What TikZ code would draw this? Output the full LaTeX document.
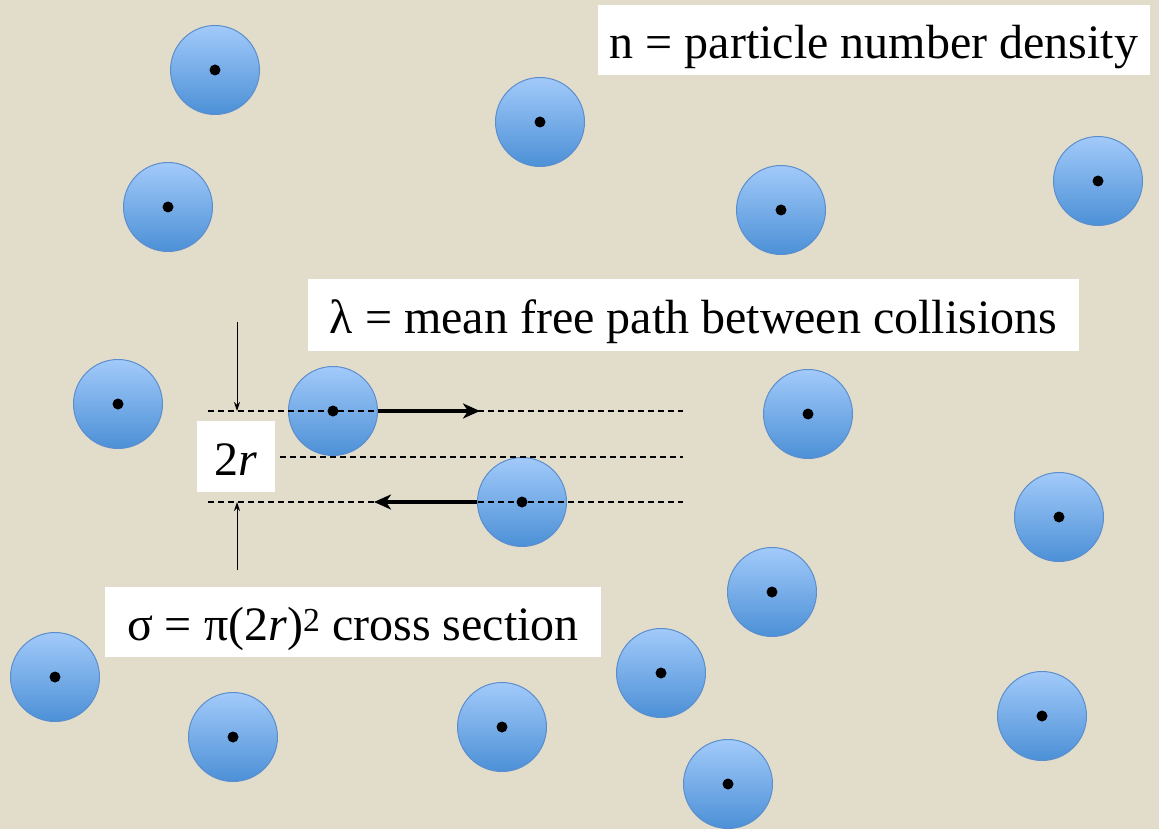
\documentclass[tikz,border=0pt]{standalone}
\usepackage{fontspec}
\setmainfont{Liberation Serif}
\usepackage{xcolor}
\usetikzlibrary{arrows.meta,positioning}
\definecolor{sand}{RGB}{226,221,203}
\definecolor{balltop}{RGB}{162,202,250}
\definecolor{ballbot}{RGB}{76,144,214}
\definecolor{ballrim}{RGB}{92,142,206}
\tikzstyle{particle} = [circle, draw=ballrim, line width=1pt, top color=balltop,
    bottom color=ballbot, minimum size=89pt, inner sep=0pt]
\tikzstyle{guide} = [dash pattern=on 6pt off 4pt, line width=1.3pt]
\tikzstyle{motion} = [line width=4pt, -{Stealth[length=17pt,width=15pt,inset=5pt]}]
\tikzstyle{gap} = [line width=1pt, -{Stealth[length=9pt,width=6pt]}]
\tikzstyle{textbox} = [fill=white, inner sep=0pt, text height=47pt, text depth=10pt,
    font=\fontsize{48}{56}\selectfont]

\begin{document}
\begin{tikzpicture}[x=1pt,y=-1pt]
    \fill[sand] (0,0) rectangle (1159,829);
    \useasboundingbox (0,0) rectangle (1159,829);
    % particles
    \foreach \name/\x/\y in {p1/215/70,p2/540/122,p3/168/207,p4/781/210,
    p5/1098/181,p6/118/404,p7/333/411,p8/808/414,p9/522/502,p10/1059/517,
    p11/772/592,p12/55/677,p13/661/673,p14/233/737,p15/502/727,
    p16/1042/716,p17/728/784}
    \node[particle] (\name) at (\x,\y) {};
    % guide lines
    \coordinate (t1) at (208,411);
    \coordinate (t2) at (683,411);
    \coordinate (c1) at (280,457);
    \coordinate (c2) at (683,457);
    \coordinate (b1) at (208,502);
    \coordinate (b2) at (683,502);
    \foreach \from/\to in {t1/t2,c1/c2,b1/b2}
    \draw[guide] (\from) -- (\to);
    \foreach \i in {1,...,17}
    \fill (p\i) circle (5.5pt);
    % motion
    \coordinate (m1) at (480,411);
    \coordinate (m2) at (374,502);
    \draw[motion] (p7.east) -- (m1);
    \draw[motion] (p9.west) -- (m2);
    % gap arrows
    \coordinate (g1) at (237,322);
    \coordinate (g2) at (237,411);
    \coordinate (g3) at (237,570);
    \coordinate (g4) at (237,502);
    \draw[gap] (g1) -- (g2);
    \draw[gap] (g3) -- (g4);
    % labels
    \node[textbox, minimum width=552pt, minimum height=70pt] (density)
    at (874,40) {n = particle number density};
    \node[textbox, minimum width=771pt, minimum height=72pt] (path)
    at (693.5,315) {λ = mean free path between collisions};
    \node[textbox, minimum width=78pt, minimum height=71pt] (radius)
    at (236,456.5) {2\textit{r}};
    \node[textbox, minimum width=496pt, minimum height=70pt] (section)
    at (353,622) {σ = π(2\textit{r})\textsuperscript{2} cross section};
\end{tikzpicture}
\end{document}
